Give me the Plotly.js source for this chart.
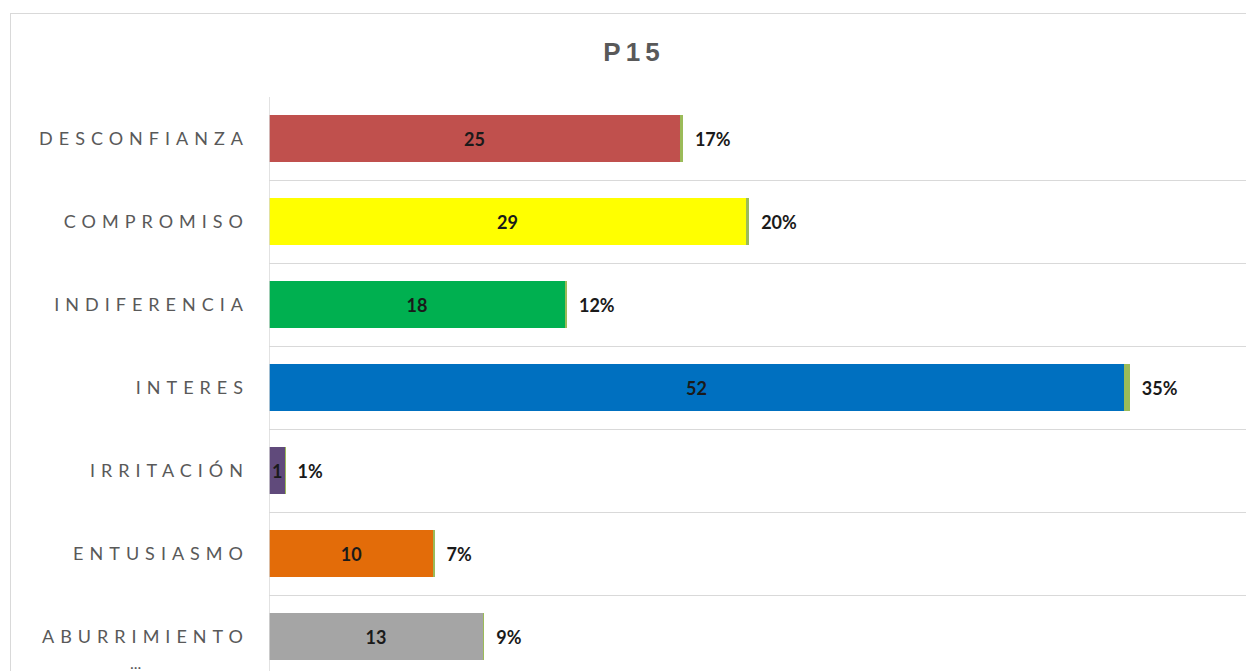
<!DOCTYPE html>
<html>
<head>
<meta charset="utf-8">
<script src="https://cdn.plot.ly/plotly-3.0.1.min.js"></script>
<style>
  html, body { margin: 0; padding: 0; overflow: hidden; background: #fff; }
  #chart { position: absolute; left: 0; top: 0; width: 1300px; height: 700px; }
  #frame { position: absolute; left: 10px; top: 13px; width: 1400px; height: 800px;
           border: 1px solid #d9d9d9; pointer-events: none; }
  .ytick text { letter-spacing: 6px; }
  .gtitle { letter-spacing: 5px; }
</style>
</head>
<body>
<div id="chart"></div>
<div id="frame"></div>
<script>
const categories = ["DESCONFIANZA", "COMPROMISO", "INDIFERENCIA", "INTERES", "IRRITACIÓN", "ENTUSIASMO", "ABURRIMIENTO"];
const counts = [25, 29, 18, 52, 1, 10, 13];
const shares = [0.17, 0.20, 0.12, 0.35, 0.01, 0.07, 0.09];
const barColors = ["#C0504D", "#FFFF00", "#00B050", "#0070C0", "#604A7B", "#E36C09", "#A5A5A5"];
const shareColor = "#9BBB59";
const titleText = "P15";

const countTrace = {
  type: "bar", orientation: "h",
  y: categories, x: counts,
  marker: { color: barColors },
  text: counts.map(String),
  textposition: "inside",
  insidetextanchor: "middle",
  constraintext: "none",
  textfont: { family: "Lato, 'Liberation Sans', sans-serif", size: 18, color: "#1a1a1a", weight: "bold" },
  hoverinfo: "none"
};
const shareTrace = {
  type: "bar", orientation: "h",
  y: categories, x: shares,
  marker: { color: shareColor },
  text: shares.map(v => "\u2002" + Math.round(v * 100) + "%"),
  textposition: "outside",
  constraintext: "none",
  cliponaxis: false,
  textfont: { family: "Lato, 'Liberation Sans', sans-serif", size: 18, color: "#1a1a1a", weight: "bold" },
  hoverinfo: "none"
};

const layout = {
  width: 1300, height: 700,
  margin: { l: 269, r: 0, t: 97, b: 22 },
  paper_bgcolor: "rgba(0,0,0,0)",
  plot_bgcolor: "rgba(0,0,0,0)",
  barmode: "stack",
  bargap: 0.445,
  showlegend: false,
  title: {
    text: titleText,
    xref: "container", x: 634 / 1300, xanchor: "center",
    yref: "container", y: 1 - 52 / 700, yanchor: "middle",
    font: { family: "'Liberation Sans', Arial, sans-serif", size: 26, color: "#595959", weight: "bold" }
  },
  xaxis: {
    range: [0, 62.7],
    showticklabels: false,
    showgrid: false,
    zeroline: false,
    showline: false,
    fixedrange: true
  },
  yaxis: {
    type: "category",
    autorange: "reversed",
    tickson: "boundaries",
    showgrid: true,
    gridcolor: "#d9d9d9",
    gridwidth: 1,
    ticks: "",
    showline: false,
    ticklabelstandoff: 19,
    tickfont: { family: "Lato, 'Liberation Sans', sans-serif", size: 18, color: "#595959" },
    fixedrange: true
  },
  shapes: [
    { type: "line", xref: "x", yref: "paper", x0: 0, x1: 0, y0: 0, y1: 1,
      line: { color: "#d9d9d9", width: 1.5 } }
  ],
  annotations: [
    { xref: "paper", yref: "y", x: 0, y: categories[6], text: "...", showarrow: false,
      xshift: -141, yshift: -26, font: { family: "Lato, 'Liberation Sans', sans-serif", size: 16, color: "#595959" } }
  ]
};

Plotly.newPlot("chart", [countTrace, shareTrace], layout, { displayModeBar: false, staticPlot: true });
</script>
</body>
</html>
